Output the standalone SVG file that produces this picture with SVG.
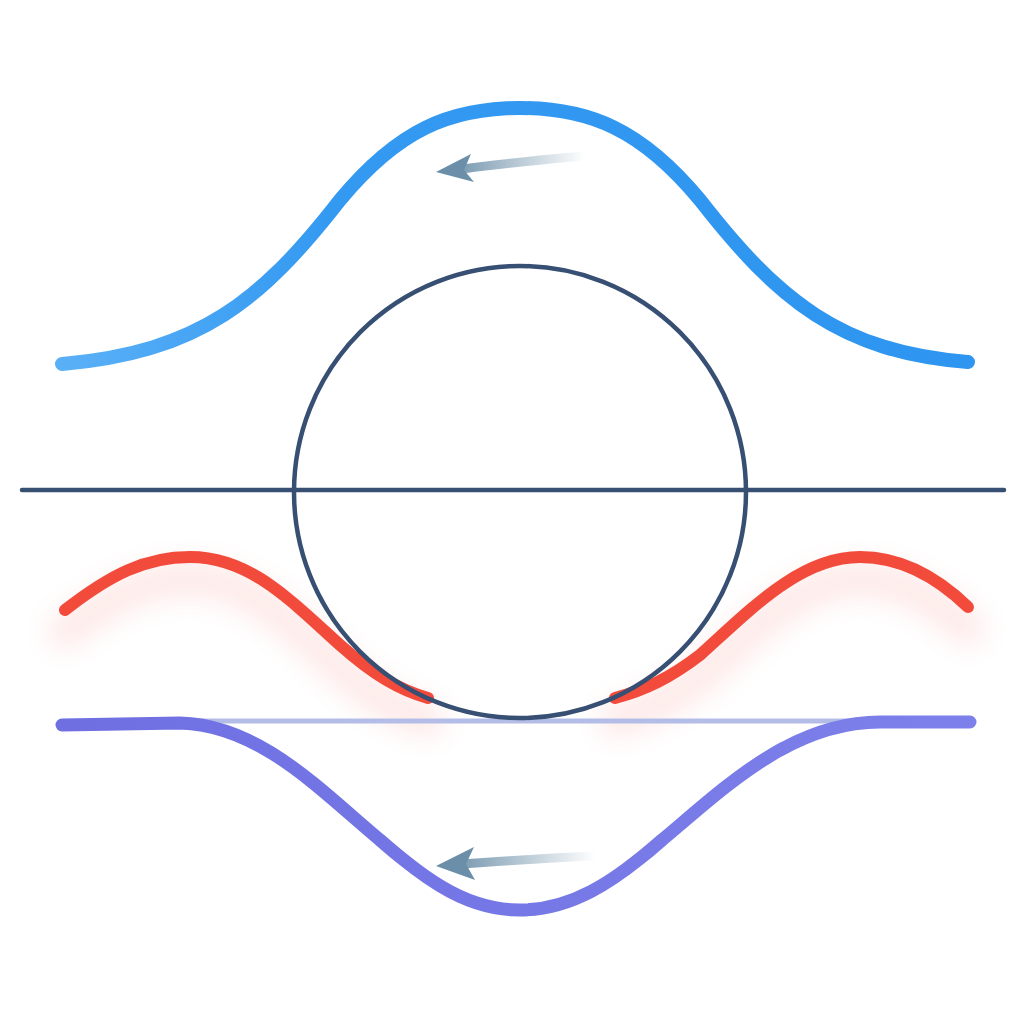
<svg xmlns="http://www.w3.org/2000/svg" width="1024" height="1024" viewBox="0 0 1024 1024">
<defs>
<style>
.curve{fill:none;stroke-linecap:round;stroke-linejoin:round}
.dark{fill:none;stroke:#364f72;stroke-width:4.5}
</style>
<linearGradient id="gBlue" x1="62" y1="0" x2="968" y2="0" gradientUnits="userSpaceOnUse">
<stop offset="0" stop-color="#5ab0f7"/><stop offset="0.3" stop-color="#3399f1"/><stop offset="1" stop-color="#2e95f0"/>
</linearGradient>
<linearGradient id="gPurple" x1="62" y1="0" x2="970" y2="0" gradientUnits="userSpaceOnUse">
<stop offset="0" stop-color="#6f6fe2"/><stop offset="1" stop-color="#7d80ea"/>
</linearGradient>
<linearGradient id="gArrTop" x1="585" y1="0" x2="445" y2="0" gradientUnits="userSpaceOnUse">
<stop offset="0" stop-color="#6b8fa8" stop-opacity="0"/><stop offset="1" stop-color="#6b8fa8"/>
</linearGradient>
<linearGradient id="gArrBot" x1="595" y1="0" x2="445" y2="0" gradientUnits="userSpaceOnUse">
<stop offset="0" stop-color="#6b8fa8" stop-opacity="0"/><stop offset="1" stop-color="#6b8fa8"/>
</linearGradient>
<filter id="blur" x="-20%" y="-50%" width="140%" height="200%"><feGaussianBlur stdDeviation="14"/></filter>
</defs>
<rect width="1024" height="1024" fill="#ffffff"/>
<g id="red-glow" filter="url(#blur)" opacity="0.12">
<path class="curve" stroke="#f04a3a" stroke-width="34" transform="translate(0,22)" d="M65,610 C110,575 145,557 190,557 C250,557 290,600 340,645 C375,676 400,690 428,698"/>
<path class="curve" stroke="#f04a3a" stroke-width="34" transform="translate(0,22)" d="M615,698 C645,690 670,678 700,655 C750,610 800,557 860,557 C905,557 940,580 968,607"/>
</g>
<g id="blue-wave">
<path class="curve" stroke="url(#gBlue)" stroke-width="14" d="M62,364 C200,352 262,300 340,200 C398,130 450,108 520,108 C590,108 642,130 700,200 C778,300 840,352 968,362"/>
</g>
<g id="red-wave">
<path class="curve" stroke="#f24b3b" stroke-width="12" d="M65,610 C110,575 145,557 190,557 C250,557 290,600 340,645 C375,676 400,690 428,698"/>
<path class="curve" stroke="#f24b3b" stroke-width="12" d="M615,698 C645,690 670,678 700,655 C750,610 800,557 860,557 C905,557 940,580 968,607"/>
</g>
<g id="baseline">
<line x1="180" y1="721" x2="880" y2="721" stroke="#b3bde8" stroke-width="5"/>
</g>
<g id="purple-wave">
<path class="curve" stroke="url(#gPurple)" stroke-width="13" d="M62,725 L180,723 C260,725 320,790 380,840 C430,884 470,910 520,910 C570,910 612,884 662,840 C722,790 790,722 880,722 L970,722"/>
</g>
<g id="circle">
<circle cx="520" cy="492" r="226" class="dark"/>
</g>
<g id="axis">
<line x1="22" y1="490" x2="1004" y2="490" stroke="#364f72" stroke-width="4.5" stroke-linecap="round"/>
</g>
<g id="connectors">
<path d="M582,156 C540,160 500,164 462,169" fill="none" stroke="url(#gArrTop)" stroke-width="9" stroke-linecap="round"/>
<polygon points="436,172 471,154 464,170 474,182" fill="#6b8fa8"/>
<path d="M592,856 C550,858 505,861 462,864" fill="none" stroke="url(#gArrBot)" stroke-width="9" stroke-linecap="round"/>
<polygon points="436,866 474,847 466,864 475,880" fill="#6b8fa8"/>
</g>
</svg>
